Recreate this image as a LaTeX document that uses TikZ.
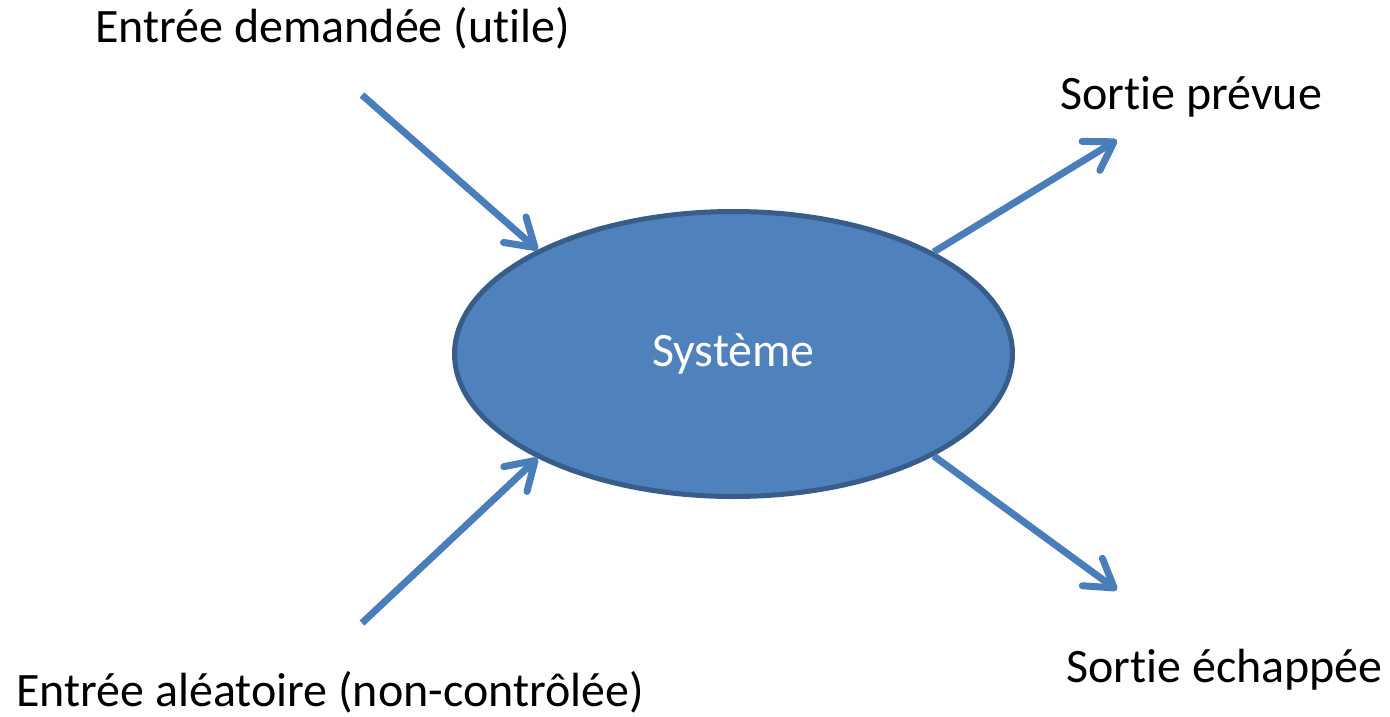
\documentclass[tikz,border=0pt]{standalone}
\usepackage{fontspec}
\setmainfont[Ligatures=NoCommon]{Carlito}
\usepackage{tikz}
\usetikzlibrary{shapes.geometric, arrows.meta, positioning, calc}

\definecolor{bleuFill}{HTML}{4F81BD}
\definecolor{bleuBord}{HTML}{385D8A}
\definecolor{bleuFleche}{HTML}{4A7EBB}

\begin{document}
\begin{tikzpicture}[x=1pt, y=-1pt,
  fleche/.style={draw=bleuFleche, line width=7pt,
    -{Straight Barb[length=27pt, width=34pt, line cap=round, line join=round]}},
  etiquette/.style={anchor=base west, inner sep=0pt, font=\fontsize{48}{57}\selectfont}]
\useasboundingbox (0,0) rectangle (1390,717);

% Le systeme
\node[ellipse, fill=bleuFill, draw=bleuBord, line width=5pt, inner sep=0pt,
  minimum width=558pt, minimum height=285pt,
  text=white, font=\fontsize{48}{57}\selectfont] (sys) at (733.5,354) {Système};

% Entrees et sorties
\node[etiquette] (demande) at (95,43) {Entrée demandée (utile)};
\node[etiquette] (alea) at (16,706) {Entrée aléatoire (non-contrôlée)};
\node[etiquette] (prevue) at (1060,110) {Sortie prévue};
\node[etiquette] (echap) at (1066,682) {Sortie échappée};

\coordinate (in1) at (362,95);
\coordinate (in2) at (362,623);
\coordinate (out1) at (1117,140);
\coordinate (out2) at (1117,590);

% Fleches
\draw[fleche] (in1) -- (sys.152);
\draw[fleche] (in2) -- (sys.208);
\draw[fleche] (sys.27.6) -- (out1);
\draw[fleche] (sys.-27.4) -- (out2);
\end{tikzpicture}
\end{document}
